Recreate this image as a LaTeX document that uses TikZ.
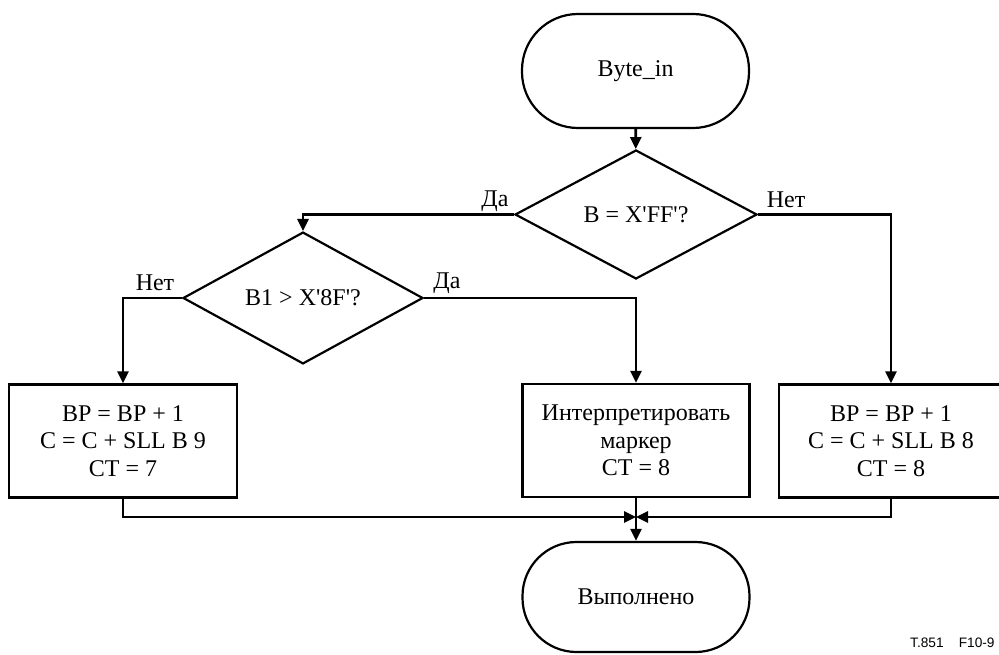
\documentclass[tikz,border=0pt]{standalone}
\usepackage{fontspec}
\setmainfont{Liberation Serif}
\newfontfamily\labelsans{Liberation Sans}
\usetikzlibrary{shapes.geometric,arrows.meta}
\newcommand{\sq}{\textquotesingle}
\begin{document}
\begin{tikzpicture}[x=1pt,y=-1pt,
 every node/.style={font=\fontsize{24}{27.5}\selectfont},
 term/.style={draw, line width=2.2pt, rounded corners=56pt, minimum width=227pt, minimum height=114pt, inner sep=0pt},
 decision/.style={draw, diamond, line width=2.2pt, minimum width=242pt, minimum height=129pt, inner sep=0pt},
 proc/.style={draw, line width=2.2pt, minimum width=227pt, minimum height=113pt, align=center, inner sep=0pt},
 conn/.style={line width=2.6pt, -{Triangle[length=12pt,width=11pt]}},
 lbl/.style={inner sep=0pt}]
\useasboundingbox (0,0) rectangle (999,655);
\node[term] (start) at (635.5,71) {Byte\_in};
\node[decision] (d1) at (636,214.5) {B = X\sq FF\sq ?};
\node[decision, minimum width=240pt, minimum height=130pt] (d2) at (303,298) {B1 > X\sq 8F\sq ?};
\node[proc, minimum width=228pt] (left) at (123,441) {BP = BP + 1\\C = C + SLL B 9\\CT = 7};
\node[proc] (mid) at (636,440.5) {Интерпретировать\\маркер\\CT = 8};
\node[proc, minimum width=224pt] (right) at (891,441) {BP = BP + 1\\C = C + SLL B 8\\CT = 8};
\node[term, minimum height=110pt, rounded corners=54pt] (end) at (636,597) {Выполнено};
\coordinate (merge) at (636,517);
\draw[conn] (start) -- (d1);
\draw[conn] (d1.west) -| (d2.north);
\draw[conn] (d1.east) -| (right.north);
\draw[conn] (d2.west) -| (left.north);
\draw[conn] (d2.east) -| (mid.north);
\draw[conn] (left.south) |- (merge);
\draw[conn] (right.south) |- (merge);
\draw[conn] (mid.south) -- (end.north);
\node[lbl] (l1) at (495,201) {Да};
\node[lbl] (l2) at (786,200) {Нет};
\node[lbl] (l3) at (155,283) {Нет};
\node[lbl] (l4) at (447,283) {Да};
\node[anchor=west, inner sep=0pt, font=\labelsans\fontsize{13.7}{15}\selectfont] (fig) at (910,643) {T.851\hspace{1.1em}F10-9};
\end{tikzpicture}
\end{document}
